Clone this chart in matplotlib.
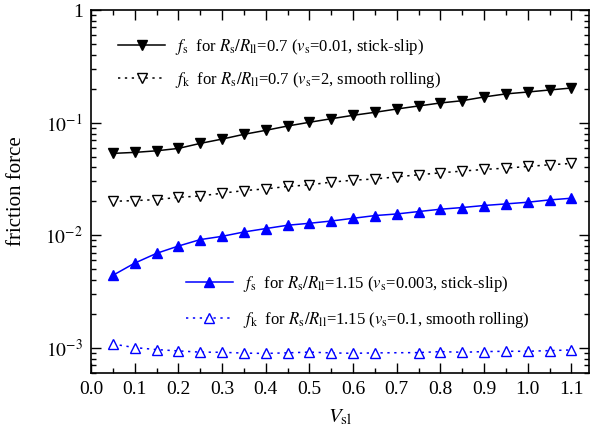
import numpy as np
import matplotlib
matplotlib.use("Agg")
import matplotlib.pyplot as plt
from matplotlib.ticker import MultipleLocator, LogLocator, FuncFormatter, NullFormatter

plt.rcParams['font.family'] = ['Liberation Serif', 'DejaVu Serif']
plt.rcParams['mathtext.fontset'] = 'stix'

# V_sl values
v_sl = [0.05, 0.10, 0.15, 0.20, 0.25, 0.30, 0.35, 0.40, 0.45, 0.50, 0.55,
        0.60, 0.65, 0.70, 0.75, 0.80, 0.85, 0.90, 0.95, 1.00, 1.05, 1.10]

# f_s, Rs/Rll = 0.7 (vs = 0.01, stick-slip)
fs_07 = [0.0533, 0.0544, 0.0562, 0.0590, 0.0654, 0.0714, 0.0787, 0.0854, 0.0933, 0.1007, 0.1083,
         0.1161, 0.1235, 0.1321, 0.1406, 0.1495, 0.1566, 0.169, 0.180, 0.187, 0.195, 0.203]

# f_k, Rs/Rll = 0.7 (vs = 2, smooth rolling)
fk_07 = [0.0200, 0.0203, 0.0207, 0.0217, 0.0223, 0.0236, 0.0249, 0.0258, 0.0271, 0.0280, 0.0296,
         0.0308, 0.0316, 0.0330, 0.0344, 0.0358, 0.0371, 0.0384, 0.0394, 0.0408, 0.0422, 0.0434]

# f_s, Rs/Rll = 1.15 (vs = 0.003, stick-slip)
fs_115 = [0.00440, 0.00565, 0.00690, 0.00801, 0.00914, 0.00977, 0.01068, 0.01145, 0.01226, 0.01276, 0.01337,
          0.01413, 0.01494, 0.01544, 0.01622, 0.01701, 0.01761, 0.01836, 0.01897, 0.01963, 0.02058, 0.02131]

# f_k, Rs/Rll = 1.15 (vs = 0.1, smooth rolling) -- no point at 0.7
v_sl_k115 = [0.05, 0.10, 0.15, 0.20, 0.25, 0.30, 0.35, 0.40, 0.45, 0.50, 0.55,
             0.60, 0.65, 0.75, 0.80, 0.85, 0.90, 0.95, 1.00, 1.05, 1.10]
fk_115 = [0.00108, 0.001004, 0.000964, 0.000938, 0.000915, 0.000912, 0.000897, 0.000891, 0.000902, 0.000915, 0.000901,
          0.000893, 0.000901, 0.000906, 0.000925, 0.000912, 0.000925, 0.000931, 0.000931, 0.000944, 0.000957]

dots = (0, (1.5, 3))

fig = plt.figure(figsize=(5.93, 4.37), dpi=100)
ax = fig.add_axes([0.1535, 0.147, 0.8395, 0.830])

l1, = ax.plot(v_sl, fs_07, '-', color='black', lw=1.1, marker='v', ms=7,
              mfc='black', mec='black',
              label=r'$f_\mathrm{s}$  for $R_\mathrm{s}/R_\mathrm{ll}$=0.7 ($v_\mathrm{s}$=0.01, stick-slip)')
l2, = ax.plot(v_sl, fk_07, ls=dots, color='black', lw=1.1, marker='v', ms=7,
              mfc='white', mec='black',
              label=r'$f_\mathrm{k}$  for $R_\mathrm{s}/R_\mathrm{ll}$=0.7 ($v_\mathrm{s}$=2, smooth rolling)')
l3, = ax.plot(v_sl, fs_115, '-', color='blue', lw=1.1, marker='^', ms=7,
              mfc='blue', mec='blue',
              label=r'$f_\mathrm{s}$  for $R_\mathrm{s}/R_\mathrm{ll}$=1.15 ($v_\mathrm{s}$=0.003, stick-slip)')
l4, = ax.plot(v_sl_k115, fk_115, ls=dots, color='blue', lw=1.1, marker='^', ms=7,
              mfc='white', mec='blue',
              label=r'$f_\mathrm{k}$  for $R_\mathrm{s}/R_\mathrm{ll}$=1.15 ($v_\mathrm{s}$=0.1, smooth rolling)')

ax.set_yscale('log')
ax.set_xlim(0, 1.14)
ax.set_ylim(6e-4, 1)

ax.xaxis.set_major_locator(MultipleLocator(0.1))
ax.xaxis.set_minor_locator(MultipleLocator(0.05))
ax.xaxis.set_major_formatter(FuncFormatter(lambda v, p: f'{v:.1f}'))
ax.yaxis.set_major_locator(LogLocator(base=10, numticks=10))
ax.yaxis.set_minor_locator(LogLocator(base=10, subs=np.arange(2, 10), numticks=10))
ax.yaxis.set_minor_formatter(NullFormatter())


def ylab(v, p):
    e = int(round(np.log10(v)))
    if e == 0:
        return '1'
    return r'$10^{%d}$' % e


ax.yaxis.set_major_formatter(FuncFormatter(ylab))

ax.tick_params(which='both', direction='in', top=True, right=True, labelsize=14, width=1)
ax.tick_params(which='major', length=7.5, pad=6)
ax.tick_params(which='minor', length=3.6)
for s in ax.spines.values():
    s.set_linewidth(1.2)

ax.set_xlabel(r'$V_\mathrm{sl}$', fontsize=15, labelpad=7)
ax.set_ylabel('friction force', fontsize=15, labelpad=14)

leg1 = ax.legend(handles=[l1, l2], loc='upper left', bbox_to_anchor=(0.054, 0.925),
                 frameon=False, fontsize=12, handlelength=2.85, handletextpad=0.6,
                 labelspacing=0.75, borderpad=0, borderaxespad=0)
ax.add_artist(leg1)
ax.legend(handles=[l3, l4], loc='upper left', bbox_to_anchor=(0.19, 0.272),
          frameon=False, fontsize=12, handlelength=2.85, handletextpad=0.6,
          labelspacing=0.95, borderpad=0, borderaxespad=0)

fig.savefig('out.png', dpi=100)
